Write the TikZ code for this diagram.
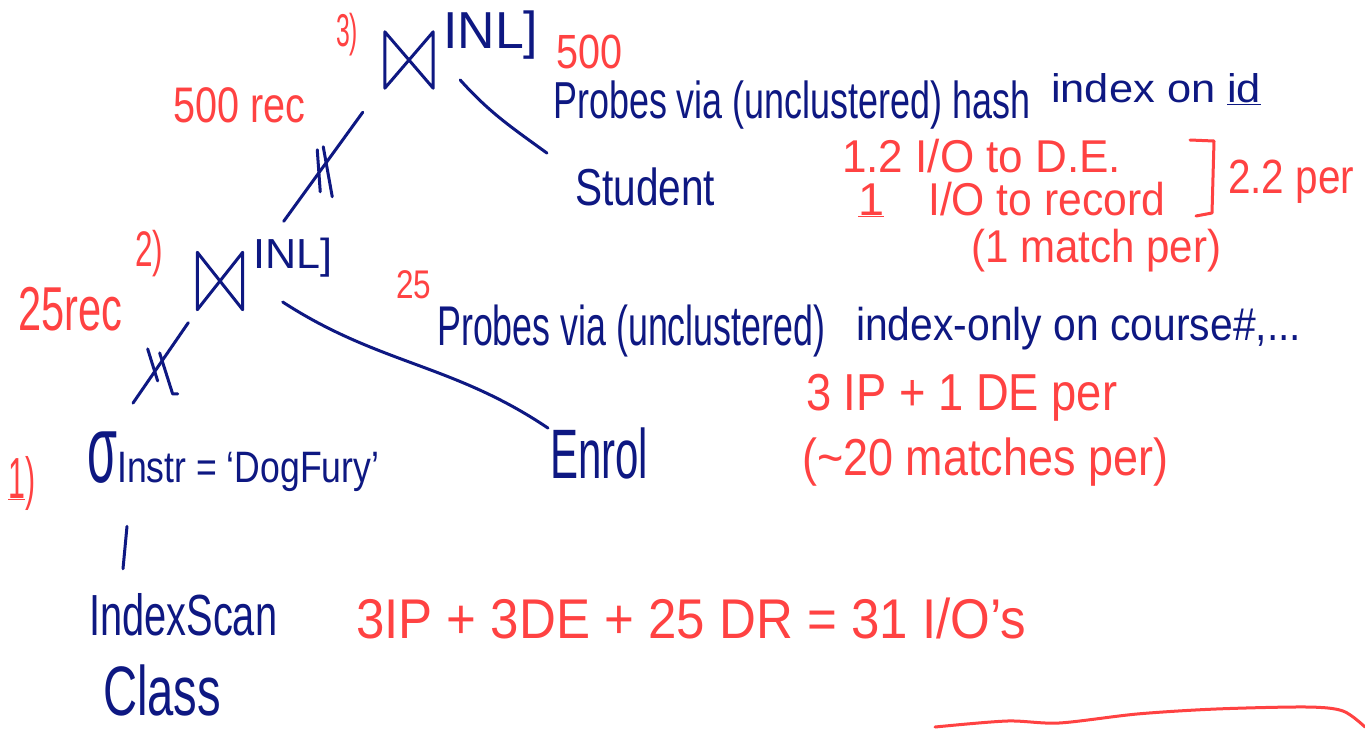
\documentclass[tikz,border=0pt]{standalone}
\usepackage{fontspec}
\setmainfont{Liberation Sans}
\usepackage{graphicx}
\usetikzlibrary{calc}
\definecolor{ink}{RGB}{14,24,130}
\definecolor{pen}{RGB}{255,66,66}
% text of a given width (pt) and font size (pt), squeezed horizontally
\newcommand{\hw}[3]{\fontsize{#2}{#2}\selectfont\resizebox{#1pt}{\height}{#3}}

\begin{document}
\begin{tikzpicture}[x=1pt,y=-1pt,
  txt/.style={inner sep=0pt, anchor=base west},
  blu/.style={txt, text=ink},
  rd/.style={txt, text=pen},
  link/.style={draw=ink, line width=3pt, line cap=round, line join=round},
  redline/.style={draw=pen, line width=3pt, line cap=round, line join=round},
  joinop/.style={inner sep=0pt, draw=none}]
\fill[white] (0,0) rectangle (1365,729);
\useasboundingbox (0,0) rectangle (1365,729);

% --- top join: Enrol-side result with Student ---
\node[rd] (n3) at (336,46) {\hw{22}{46}{3)}};
\node[joinop, minimum width=48pt, minimum height=56pt] (j3) at (409,60) {};
\draw[link] (j3.north west) -- (j3.south west) -- (j3.north east) -- (j3.south east) -- cycle;
\node[blu] (inl3) at (443,48) {\hw{95}{52}{INL]}};
\node[rd] (c500) at (556,68) {\hw{66}{48}{500}};
\node[rd] (r500) at (173,122) {\hw{132}{50}{500 rec}};
\node[blu] (pr1) at (553,118) {\hw{477}{52}{Probes via (unclustered) hash}};
\node[blu] (pr1b) at (1051,102) {\hw{210}{40}{index on \underline{id}}};
\node[blu] (stu) at (575,205) {\hw{140}{52}{Student}};

% cost notes for the hash probe
\node[rd] (io1) at (842,172) {\hw{279}{46}{1.2 I/O to D.E.}};
\node[rd] (one) at (858,215) {\hw{26}{46}{\underline{1}}};
\node[rd] (io2) at (928,215) {\hw{237}{46}{I/O to record}};
\draw[redline] (1190,140) -- (1214,141) -- (1212,213) -- (1196,216);
\node[rd] (per22) at (1228,193) {\hw{126}{48}{2.2 per}};
\node[rd] (match1) at (971,262) {\hw{250}{46}{(1 match per)}};

% --- lower join: selection with Enrol ---
\node[rd] (n2) at (135,266) {\hw{28}{50}{2)}};
\node[joinop, minimum width=45pt, minimum height=57pt] (j2) at (220,281) {};
\draw[link] (j2.north west) -- (j2.south west) -- (j2.north east) -- (j2.south east) -- cycle;
\node[blu] (inl2) at (253,268) {\hw{79}{42}{INL]}};
\node[rd] (r25) at (18,330) {\hw{104}{62}{25rec}};
\node[rd] (c25) at (396,298) {\hw{35}{40}{25}};
\node[blu] (pr2) at (437,345) {\hw{388}{56}{Probes via (unclustered)}};
\node[blu] (pr2b) at (856,340) {\hw{445}{46}{index-only on course\#,...}};
\node[rd] (ip1) at (806,410) {\hw{311}{52}{3 IP + 1 DE per}};
\node[rd] (m20) at (802,475) {\hw{366}{52}{(\textasciitilde 20 matches per)}};
\node[blu] (enr) at (550,478) {\hw{98}{70}{Enrol}};

% --- selection and index scan ---
\node[rd] (n1) at (8,498) {\hw{27}{58}{\underline{1})}};
\node[blu] (sel) at (87,482) {\hw{30}{96}{σ}\hw{262}{44}{Instr = `DogFury'}};
\node[blu] (idx) at (89,635) {\hw{188}{58}{IndexScan}};
\node[blu] (cls) at (103,715) {\hw{118}{70}{Class}};
\node[rd] (tot) at (356,638) {\hw{670}{56}{3IP + 3DE + 25 DR = 31 I/O's}};

% --- tree edges ---
\draw[link] ($(j3.east)+(27,20)$) to[out=-48,in=144] ($(stu.north west)+(-28,-14)$);
\draw[link] ($(j3.south west)+(-22,24)$) -- coordinate[pos=0.5] (m3) ($(j2.north east)+(41,-31)$);
\draw[link] ($(m3)+(-6,-17)$) -- ($(m3)+(-3,25)$);
\draw[link] ($(m3)+(0,-20)$) -- ($(m3)+(9,30)$);
\draw[link] ($(j2.east)+(40,21)$) to[out=-33,in=146] ($(enr.north west)+(-2,1)$);
\draw[link] ($(j2.south west)+(-9,13)$) -- coordinate[pos=0.5] (m2) ($(sel.north west)+(46,-28)$);
\draw[link] ($(m2)+(-13,-14)$) -- ($(m2)+(-3,18)$);
\draw[link] ($(m2)+(-1,-10)$) -- ($(m2)+(12,31)$) -- ($(m2)+(17,31)$);
\draw[link] ($(sel.south west)+(40,35)$) -- ($(idx.north west)+(34,-24)$);

% red stroke along the bottom edge
\draw[redline] plot[smooth] coordinates {(935,727) (1007,721) (1059,723) (1137,714) (1216,709) (1307,707) (1343,711) (1365,727)};
\end{tikzpicture}
\end{document}
